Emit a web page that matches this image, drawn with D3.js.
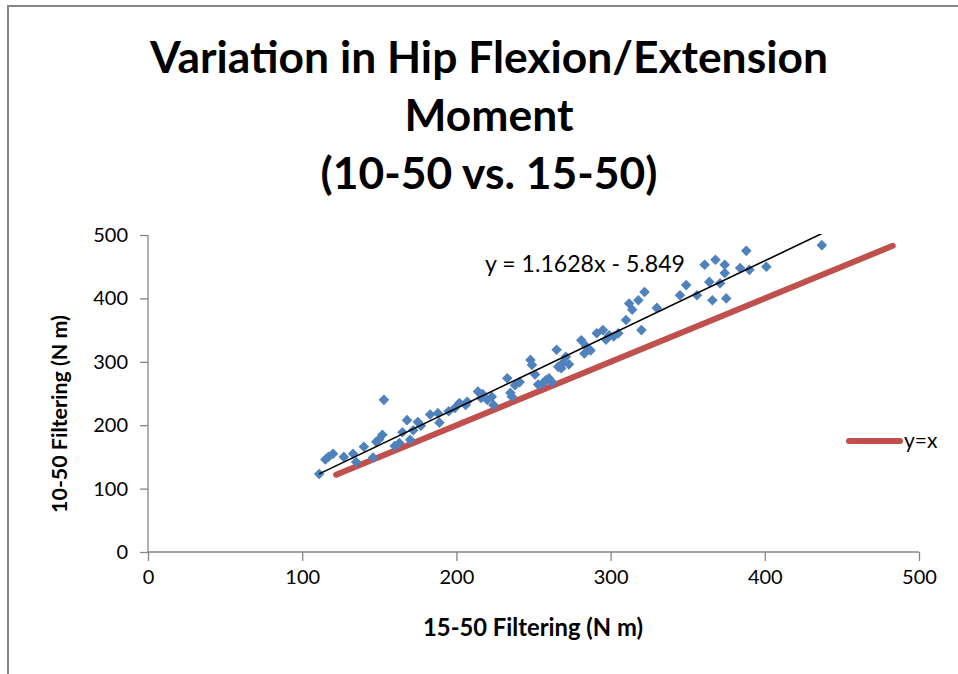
<!DOCTYPE html>
<html>
<head>
<meta charset="utf-8">
<script src="https://cdn.jsdelivr.net/npm/d3@7"></script>
<style>
  html, body { margin: 0; padding: 0; background: #fff; }
  svg { display: block; }
  text { font-family: Lato, "Noto Sans", sans-serif; fill: #000; }
</style>
</head>
<body>
<svg id="chart" width="958" height="674"></svg>
<script>
// ---- data ----
const titleLines = ["Variation in Hip Flexion/Extension", "Moment", "(10-50 vs. 15-50)"];
const xTitle = "15-50 Filtering (N m)";
const yTitle = "10-50 Filtering (N m)";
const xTicks = [0, 100, 200, 300, 400, 500];
const yTicks = [0, 100, 200, 300, 400, 500];
const trendLabel = "y = 1.1628x - 5.849";
const trendSlope = 1.1628;
const trendIntercept = -5.849;
const refName = "y=x";
const refX = [122, 483];
const refY = [122, 483];
const x1550 = [111,115,117,120,127,133,135,140,146,148,150,152,153,160,163,165,168,170,172,175,177,183,188,189,195,199,202,206,207,214,216,217,220,223,224,233,235,236,238,241,248,249,251,253,256,258,260,262,265,266,268,269,271,273,281,283,284,287,291,295,297,299,302,305,310,312,314,318,320,322,330,345,349,356,361,364,366,368,371,374,374,375,384,388,390,401,437];
const y1050 = [123,146,150,155,150,155,142,166,149,174,178,185,240,167,172,189,208,177,192,205,199,217,219,204,222,227,235,232,237,253,243,249,240,245,232,274,251,245,263,268,303,295,280,264,266,271,274,268,319,292,290,298,308,296,334,313,325,318,345,350,335,342,340,345,366,392,382,397,350,410,385,405,421,405,453,426,397,461,424,453,440,400,448,475,445,450,484];

// ---- layout ----
const svg = d3.select("#chart");
const plot = { left: 148, right: 919, top: 235, bottom: 552 };
const x = d3.scaleLinear().domain([0, 500]).range([plot.left, plot.right]);
const y = d3.scaleLinear().domain([0, 500]).range([plot.bottom, plot.top]);
const axisColor = "#868686";

function fitSize(sel, base, target) {
  sel.attr("font-size", base);
  const w = sel.node().getComputedTextLength();
  const s = base * target / w;
  sel.attr("font-size", s);
  return s;
}

// chart frame
svg.append("rect").attr("x", 8).attr("y", 6).attr("width", 1000).attr("height", 700)
  .attr("fill", "none").attr("stroke", axisColor).attr("stroke-width", 2);

// title
const tl = svg.append("g").selectAll("text").data(titleLines).join("text")
  .attr("x", 489).attr("y", (d, i) => 73 + i * 58)
  .attr("text-anchor", "middle").attr("font-weight", "bold")
  .attr("font-size", 40).text(d => d);
const w0 = tl.nodes()[0].getComputedTextLength();
tl.attr("font-size", 40 * 678 / w0);

// clip for plot
svg.append("clipPath").attr("id", "clip").append("rect")
  .attr("x", plot.left).attr("y", plot.top - 1)
  .attr("width", plot.right - plot.left).attr("height", plot.bottom - plot.top + 1);

// axes
const xAxis = d3.axisBottom(x).tickValues(xTicks).tickSize(9).tickPadding(9).tickFormat(d3.format("d"));
const yAxis = d3.axisLeft(y).tickValues(yTicks).tickSize(8).tickPadding(12).tickFormat(d3.format("d"));
const gx = svg.append("g").attr("transform", `translate(0,${plot.bottom})`).call(xAxis);
const gy = svg.append("g").attr("transform", `translate(${plot.left},0)`).call(yAxis);
[gx, gy].forEach(g => {
  g.select(".domain").attr("stroke", axisColor).attr("stroke-width", 1.3);
  g.selectAll(".tick line").attr("stroke", axisColor).attr("stroke-width", 1.3);
  g.selectAll(".tick text").attr("font-size", 20).attr("font-family", "Lato, sans-serif").attr("fill", "#000");
});
gx.select(".domain").attr("d", `M${plot.left},0H${plot.right}`);
gy.select(".domain").attr("d", `M0,${plot.top}V${plot.bottom}`);

// y=x reference line
const refData = refX.map((v, i) => [v, refY[i]]);
svg.append("path").datum(refData)
  .attr("d", d3.line().x(d => x(d[0])).y(d => y(d[1])))
  .attr("stroke", "#C0504D").attr("stroke-width", 6).attr("stroke-linecap", "round")
  .attr("fill", "none");

// scatter points
const pts = x1550.map((v, i) => [v, y1050[i]]);
const diamond = d3.symbol().type(d3.symbolSquare).size(56);
svg.append("g").selectAll("path").data(pts).join("path")
  .attr("d", diamond)
  .attr("transform", d => `translate(${x(d[0])},${y(d[1])}) rotate(45)`)
  .attr("fill", "#4F81BD");

// trendline
const xmin = d3.min(x1550), xmax = d3.max(x1550);
svg.append("path").attr("clip-path", "url(#clip)")
  .datum([xmin, xmax])
  .attr("d", d3.line().x(d => x(d)).y(d => y(trendSlope * d + trendIntercept)))
  .attr("stroke", "#000").attr("stroke-width", 1.6).attr("fill", "none");

const tlab = svg.append("text").attr("x", 585).attr("y", 272).attr("text-anchor", "middle").text(trendLabel);
fitSize(tlab, 18, 200);

// legend
svg.append("line").attr("x1", 849).attr("x2", 900).attr("y1", 441).attr("y2", 441)
  .attr("stroke", "#C0504D").attr("stroke-width", 6).attr("stroke-linecap", "round");
svg.append("text").attr("x", 904).attr("y", 448).attr("font-size", 21).text(refName);

// axis titles
const xt = svg.append("text").attr("x", 533).attr("y", 636).attr("text-anchor", "middle")
  .attr("font-weight", "bold").text(xTitle);
fitSize(xt, 19, 220);
const yt = svg.append("text").attr("transform", "translate(67,414) rotate(-90)")
  .attr("text-anchor", "middle").attr("font-weight", "bold").text(yTitle);
fitSize(yt, 19, 198);
</script>
</body>
</html>
